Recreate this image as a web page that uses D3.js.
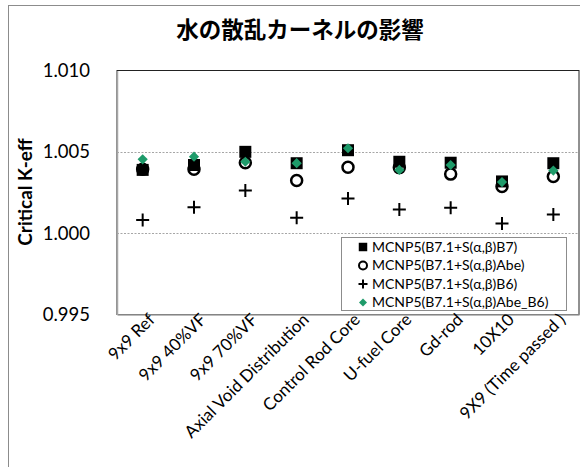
<!DOCTYPE html>
<html>
<head>
<meta charset="utf-8">
<script src="https://cdn.jsdelivr.net/npm/d3@7"></script>
<style>
  body { margin: 0; background: #fff; }
  svg { display: block; font-family: Lato, "Open Sans", sans-serif; }
</style>
</head>
<body>
<svg width="580" height="467"></svg>
<script>
const categories = ["9x9 Ref", "9x9 40%VF", "9x9 70%VF", "Axial Void Distribution", "Control Rod Core",
    "U-fuel Core", "Gd-rod", "10X10", "9X9 (Time passed )"];
const seriesNames = ["MCNP5(B7.1+S(\u03b1,\u03b2)B7)", "MCNP5(B7.1+S(\u03b1,\u03b2)Abe)",
    "MCNP5(B7.1+S(\u03b1,\u03b2)B6)", "MCNP5(B7.1+S(\u03b1,\u03b2)Abe_B6)"];
const b7 = [1.00389, 1.00419, 1.00500, 1.00430, 1.00510, 1.00439, 1.00433, 1.00318, 1.00430];
const abe = [1.00393, 1.00393, 1.00433, 1.00324, 1.00405, 1.00403, 1.00363, 1.00287, 1.00348];
const b6 = [1.00081, 1.00160, 1.00263, 1.00095, 1.00213, 1.00146, 1.00156, 1.00059, 1.00114];
const abeB6 = [1.00454, 1.00470, 1.00439, 1.00430, 1.00522, 1.00389, 1.00419, 1.00314, 1.00385];
const yTicks = [0.995, 1.000, 1.005, 1.010];
const gridTicks = [1.000, 1.005];

const svg = d3.select("svg");
const margin = { top: 70.5, right: 1, bottom: 152.5, left: 117 };
const W = 580, H = 467;

// outer chart frame
svg.append("rect").attr("x", 8.5).attr("y", 5.5).attr("width", 600).attr("height", 500)
    .attr("fill", "none").attr("stroke", "#8c8c8c");

svg.append("text").attr("x", 300).attr("y", 38).attr("text-anchor", "middle")
    .attr("font-family", "'Noto Sans CJK JP', sans-serif").attr("font-weight", "bold")
    .attr("font-size", 22.5).text("水の散乱カーネルの影響");

const x = d3.scaleBand().domain(categories).range([margin.left, W - margin.right]);
const y = d3.scaleLinear().domain([0.995, 1.010]).range([H - margin.bottom, margin.top]);

// plot frame
svg.append("rect").attr("x", margin.left).attr("y", y(1.010))
    .attr("width", W - margin.right - margin.left).attr("height", y(0.995) - y(1.010))
    .attr("fill", "none").attr("stroke", "#222");

svg.append("g").selectAll("line").data(gridTicks).join("line")
    .attr("x1", margin.left).attr("x2", W - margin.right)
    .attr("y1", d => Math.round(y(d)) + 0.5).attr("y2", d => Math.round(y(d)) + 0.5)
    .attr("stroke", "#a6a6a6").attr("stroke-dasharray", "2,1.5");

const yAxis = svg.append("g").attr("transform", `translate(${margin.left},0)`)
    .call(d3.axisLeft(y).tickValues(yTicks).tickFormat(d3.format(".3f")).tickSize(0).tickPadding(27));
yAxis.select(".domain").attr("stroke", "#a6a6a6").attr("stroke-width", 1.5);
yAxis.selectAll("text").attr("font-size", 18.5).attr("font-family", "Lato, sans-serif").attr("fill", "#000");

const xAxis = svg.append("g").attr("transform", `translate(0,${y(0.995)})`)
    .call(d3.axisBottom(x).tickSize(0).tickFormat(""));
xAxis.select(".domain").attr("stroke", "#a6a6a6").attr("stroke-width", 1.5);

svg.append("g").selectAll("text").data(categories).join("text")
    .attr("transform", d => `translate(${x(d) + x.bandwidth() / 2 + 9},${y(0.995) + 2}) rotate(-45)`)
    .attr("text-anchor", "end").attr("dy", "0.35em")
    .attr("font-size", 17).text(d => d);

svg.append("text").attr("transform", "translate(32,192) rotate(-90)")
    .attr("text-anchor", "middle").attr("font-weight", "bold").attr("font-size", 19)
    .text("Critical K-eff");

const cx = i => x(categories[i]) + x.bandwidth() / 2;
const square = d3.symbol(d3.symbolSquare);
const plusPath = s => `M${-s},0H${s}M0,${-s}V${s}`;

const marks = svg.append("g");
marks.selectAll(".b7").data(b7).join("path").attr("class", "b7")
    .attr("transform", (d, i) => `translate(${cx(i)},${y(d)})`)
    .attr("d", square.size(144)()).attr("fill", "#000");
marks.selectAll(".abe").data(abe).join("circle").attr("class", "abe")
    .attr("cx", (d, i) => cx(i)).attr("cy", d => y(d)).attr("r", 5.5)
    .attr("fill", "none").attr("stroke", "#000").attr("stroke-width", 2.5);
marks.selectAll(".b6").data(b6).join("path").attr("class", "b6")
    .attr("transform", (d, i) => `translate(${cx(i)},${y(d)})`)
    .attr("d", plusPath(6.5)).attr("stroke", "#000").attr("stroke-width", 2);
marks.selectAll(".abeb6").data(abeB6).join("path").attr("class", "abeb6")
    .attr("transform", (d, i) => `translate(${cx(i)},${y(d)}) rotate(45)`)
    .attr("d", square.size(52)()).attr("fill", "#1e9b6a");

// legend
const lg = svg.append("g").attr("transform", "translate(341,237)");
lg.append("rect").attr("x", 0.5).attr("y", 0.5).attr("width", 225).attr("height", 73)
    .attr("fill", "#fff").attr("stroke", "#8c8c8c");
const rows = lg.selectAll("g").data(seriesNames).join("g")
    .attr("transform", (d, i) => `translate(22,${10 + i * 18.5})`);
rows.append("text").attr("x", 9).attr("dy", "0.35em").attr("font-size", 14).text(d => d);
rows.filter((d, i) => i === 0).append("path").attr("d", square.size(72)()).attr("fill", "#000");
rows.filter((d, i) => i === 1).append("circle").attr("r", 4).attr("fill", "none")
    .attr("stroke", "#000").attr("stroke-width", 2);
rows.filter((d, i) => i === 2).append("path").attr("d", plusPath(4.5))
    .attr("stroke", "#000").attr("stroke-width", 2);
rows.filter((d, i) => i === 3).append("path").attr("transform", "rotate(45)")
    .attr("d", square.size(32)()).attr("fill", "#1e9b6a");
</script>
</body>
</html>
